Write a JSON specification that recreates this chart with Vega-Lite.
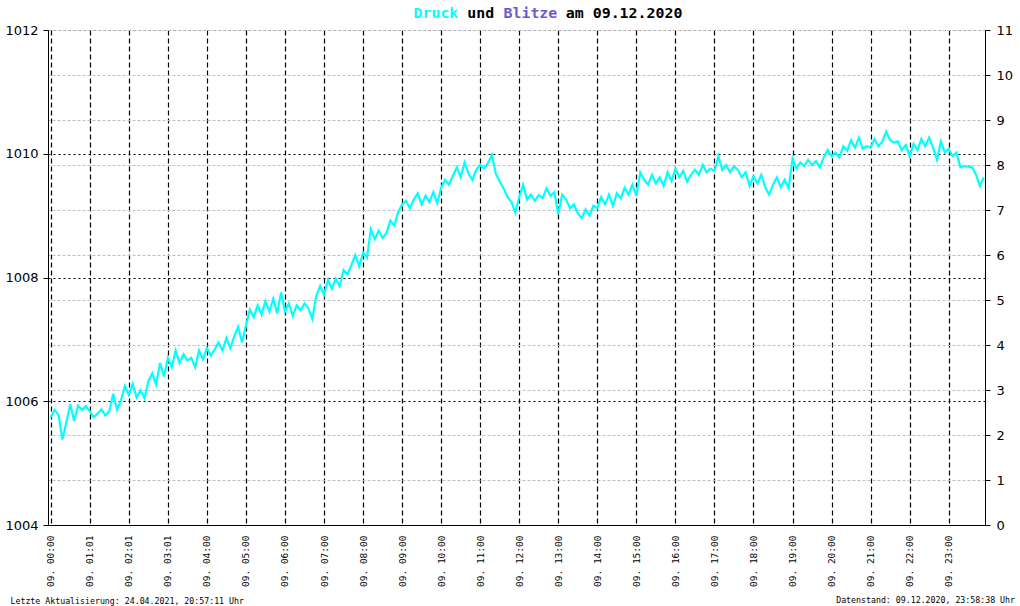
{
  "$schema": "https://vega.github.io/schema/vega-lite/v6.json",
  "width": 937,
  "height": 495,
  "autosize": {"type": "none"},
  "padding": {"left": 48, "top": 30, "right": 35, "bottom": 81},
  "background": "white",
  "title": {
    "text": "Datenstand: 09.12.2020, 23:58:38 Uhr",
    "orient": "bottom",
    "anchor": "end",
    "frame": "group",
    "font": "DejaVu Sans Mono",
    "fontSize": 8.25,
    "fontWeight": "normal",
    "color": "black",
    "dx": 30,
    "dy": -8,
    "offset": 0
  },
  "config": {
    "view": {"stroke": null},
    "axis": {"labelColor": "black", "domainColor": "black", "tickColor": "black", "titleColor": "black", "domainWidth": 1, "tickWidth": 1}
  },
  "datasets": {
    "druck": [
      {"h":0.0,"p":1005.74},{"h":0.1,"p":1005.86},{"h":0.2,"p":1005.78},{"h":0.3,"p":1005.38},{"h":0.4,"p":1005.66},{"h":0.5,"p":1005.95},{"h":0.6,"p":1005.68},{"h":0.7,"p":1005.93},{"h":0.8,"p":1005.86},{"h":0.9,"p":1005.92},
      {"h":1.0,"p":1005.84},{"h":1.1,"p":1005.74},{"h":1.2,"p":1005.80},{"h":1.3,"p":1005.87},{"h":1.4,"p":1005.77},{"h":1.5,"p":1005.84},{"h":1.6,"p":1006.12},{"h":1.7,"p":1005.86},{"h":1.8,"p":1006.02},{"h":1.9,"p":1006.25},
      {"h":2.0,"p":1006.10},{"h":2.1,"p":1006.28},{"h":2.2,"p":1006.06},{"h":2.3,"p":1006.18},{"h":2.4,"p":1006.05},{"h":2.5,"p":1006.32},{"h":2.6,"p":1006.45},{"h":2.7,"p":1006.27},{"h":2.8,"p":1006.62},{"h":2.9,"p":1006.40},
      {"h":3.0,"p":1006.70},{"h":3.1,"p":1006.55},{"h":3.2,"p":1006.82},{"h":3.3,"p":1006.62},{"h":3.4,"p":1006.76},{"h":3.5,"p":1006.66},{"h":3.6,"p":1006.70},{"h":3.7,"p":1006.55},{"h":3.8,"p":1006.82},{"h":3.9,"p":1006.68},
      {"h":4.0,"p":1006.86},{"h":4.1,"p":1006.74},{"h":4.2,"p":1006.84},{"h":4.3,"p":1006.95},{"h":4.4,"p":1006.82},{"h":4.5,"p":1007.02},{"h":4.6,"p":1006.86},{"h":4.7,"p":1007.05},{"h":4.8,"p":1007.20},{"h":4.9,"p":1006.95},
      {"h":5.0,"p":1007.22},{"h":5.1,"p":1007.48},{"h":5.2,"p":1007.36},{"h":5.3,"p":1007.55},{"h":5.4,"p":1007.40},{"h":5.5,"p":1007.62},{"h":5.6,"p":1007.45},{"h":5.7,"p":1007.66},{"h":5.8,"p":1007.42},{"h":5.9,"p":1007.76},
      {"h":6.0,"p":1007.45},{"h":6.1,"p":1007.58},{"h":6.2,"p":1007.38},{"h":6.3,"p":1007.55},{"h":6.4,"p":1007.47},{"h":6.5,"p":1007.58},{"h":6.6,"p":1007.50},{"h":6.7,"p":1007.33},{"h":6.8,"p":1007.70},{"h":6.9,"p":1007.86},
      {"h":7.0,"p":1007.72},{"h":7.1,"p":1007.96},{"h":7.2,"p":1007.82},{"h":7.3,"p":1007.98},{"h":7.4,"p":1007.86},{"h":7.5,"p":1008.12},{"h":7.6,"p":1008.05},{"h":7.7,"p":1008.20},{"h":7.8,"p":1008.36},{"h":7.9,"p":1008.18},
      {"h":8.0,"p":1008.40},{"h":8.1,"p":1008.32},{"h":8.2,"p":1008.78},{"h":8.3,"p":1008.62},{"h":8.4,"p":1008.76},{"h":8.5,"p":1008.64},{"h":8.6,"p":1008.72},{"h":8.7,"p":1008.92},{"h":8.8,"p":1008.84},{"h":8.9,"p":1009.06},
      {"h":9.0,"p":1009.18},{"h":9.1,"p":1009.24},{"h":9.2,"p":1009.12},{"h":9.3,"p":1009.26},{"h":9.4,"p":1009.36},{"h":9.5,"p":1009.18},{"h":9.6,"p":1009.32},{"h":9.7,"p":1009.22},{"h":9.8,"p":1009.38},{"h":9.9,"p":1009.20},
      {"h":10.0,"p":1009.45},{"h":10.1,"p":1009.58},{"h":10.2,"p":1009.50},{"h":10.3,"p":1009.64},{"h":10.4,"p":1009.78},{"h":10.5,"p":1009.62},{"h":10.6,"p":1009.86},{"h":10.7,"p":1009.68},{"h":10.8,"p":1009.58},{"h":10.9,"p":1009.74},
      {"h":11.0,"p":1009.82},{"h":11.1,"p":1009.76},{"h":11.2,"p":1009.85},{"h":11.3,"p":1009.98},{"h":11.4,"p":1009.68},{"h":11.5,"p":1009.55},{"h":11.6,"p":1009.44},{"h":11.7,"p":1009.30},{"h":11.8,"p":1009.22},{"h":11.9,"p":1009.05},
      {"h":12.0,"p":1009.30},{"h":12.1,"p":1009.50},{"h":12.2,"p":1009.26},{"h":12.3,"p":1009.34},{"h":12.4,"p":1009.24},{"h":12.5,"p":1009.33},{"h":12.6,"p":1009.28},{"h":12.7,"p":1009.44},{"h":12.8,"p":1009.32},{"h":12.9,"p":1009.38},
      {"h":13.0,"p":1009.02},{"h":13.1,"p":1009.34},{"h":13.2,"p":1009.26},{"h":13.3,"p":1009.12},{"h":13.4,"p":1009.18},{"h":13.5,"p":1009.04},{"h":13.6,"p":1008.96},{"h":13.7,"p":1009.10},{"h":13.8,"p":1009.00},{"h":13.9,"p":1009.16},
      {"h":14.0,"p":1009.12},{"h":14.1,"p":1009.30},{"h":14.2,"p":1009.18},{"h":14.3,"p":1009.34},{"h":14.4,"p":1009.16},{"h":14.5,"p":1009.36},{"h":14.6,"p":1009.28},{"h":14.7,"p":1009.45},{"h":14.8,"p":1009.34},{"h":14.9,"p":1009.50},
      {"h":15.0,"p":1009.32},{"h":15.1,"p":1009.70},{"h":15.2,"p":1009.58},{"h":15.3,"p":1009.50},{"h":15.4,"p":1009.66},{"h":15.5,"p":1009.52},{"h":15.6,"p":1009.62},{"h":15.7,"p":1009.48},{"h":15.8,"p":1009.70},{"h":15.9,"p":1009.56},
      {"h":16.0,"p":1009.76},{"h":16.1,"p":1009.62},{"h":16.2,"p":1009.72},{"h":16.3,"p":1009.55},{"h":16.4,"p":1009.66},{"h":16.5,"p":1009.74},{"h":16.6,"p":1009.66},{"h":16.7,"p":1009.82},{"h":16.8,"p":1009.70},{"h":16.9,"p":1009.76},
      {"h":17.0,"p":1009.72},{"h":17.1,"p":1009.96},{"h":17.2,"p":1009.74},{"h":17.3,"p":1009.82},{"h":17.4,"p":1009.70},{"h":17.5,"p":1009.80},{"h":17.6,"p":1009.74},{"h":17.7,"p":1009.62},{"h":17.8,"p":1009.70},{"h":17.9,"p":1009.48},
      {"h":18.0,"p":1009.64},{"h":18.1,"p":1009.52},{"h":18.2,"p":1009.66},{"h":18.3,"p":1009.46},{"h":18.4,"p":1009.34},{"h":18.5,"p":1009.50},{"h":18.6,"p":1009.62},{"h":18.7,"p":1009.46},{"h":18.8,"p":1009.58},{"h":18.9,"p":1009.44},
      {"h":19.0,"p":1009.92},{"h":19.1,"p":1009.76},{"h":19.2,"p":1009.86},{"h":19.3,"p":1009.80},{"h":19.4,"p":1009.90},{"h":19.5,"p":1009.82},{"h":19.6,"p":1009.88},{"h":19.7,"p":1009.78},{"h":19.8,"p":1009.94},{"h":19.9,"p":1010.06},
      {"h":20.0,"p":1009.96},{"h":20.1,"p":1010.02},{"h":20.2,"p":1009.94},{"h":20.3,"p":1010.12},{"h":20.4,"p":1010.05},{"h":20.5,"p":1010.22},{"h":20.6,"p":1010.10},{"h":20.7,"p":1010.26},{"h":20.8,"p":1010.08},{"h":20.9,"p":1010.12},
      {"h":21.0,"p":1010.10},{"h":21.1,"p":1010.24},{"h":21.2,"p":1010.12},{"h":21.3,"p":1010.20},{"h":21.4,"p":1010.36},{"h":21.5,"p":1010.22},{"h":21.6,"p":1010.18},{"h":21.7,"p":1010.20},{"h":21.8,"p":1010.06},{"h":21.9,"p":1010.14},
      {"h":22.0,"p":1009.96},{"h":22.1,"p":1010.16},{"h":22.2,"p":1010.06},{"h":22.3,"p":1010.24},{"h":22.4,"p":1010.12},{"h":22.5,"p":1010.26},{"h":22.6,"p":1010.10},{"h":22.7,"p":1009.90},{"h":22.8,"p":1010.20},{"h":22.9,"p":1010.02},
      {"h":23.0,"p":1010.08},{"h":23.1,"p":1009.96},{"h":23.2,"p":1010.02},{"h":23.3,"p":1009.78},{"h":23.4,"p":1009.80},{"h":23.5,"p":1009.79},{"h":23.6,"p":1009.78},{"h":23.7,"p":1009.66},{"h":23.8,"p":1009.48},{"h":23.9,"p":1009.62}
    ],
    "blitze": [
      {"h":0,"n":0},{"h":1,"n":0},{"h":2,"n":0},{"h":3,"n":0},{"h":4,"n":0},{"h":5,"n":0},{"h":6,"n":0},{"h":7,"n":0},{"h":8,"n":0},{"h":9,"n":0},{"h":10,"n":0},{"h":11,"n":0},
      {"h":12,"n":0},{"h":13,"n":0},{"h":14,"n":0},{"h":15,"n":0},{"h":16,"n":0},{"h":17,"n":0},{"h":18,"n":0},{"h":19,"n":0},{"h":20,"n":0},{"h":21,"n":0},{"h":22,"n":0},{"h":23,"n":0}
    ]
  },
  "layer": [
    {
      "data": {"name": "druck"},
      "mark": {"type": "line", "color": "#00ffff", "strokeWidth": 2.2},
      "encoding": {
        "x": {
          "field": "h", "type": "quantitative",
          "scale": {"domain": [-0.07, 23.93], "nice": false, "zero": false},
          "axis": {
            "orient": "bottom",
            "values": [0,1,2,3,4,5,6,7,8,9,10,11,12,13,14,15,16,17,18,19,20,21,22,23],
            "labelExpr": "'09. ' + (datum.value < 10 ? '0' : '') + datum.value + ((datum.value >= 1 && datum.value <= 3) ? ':01' : ':00')",
            "labelAngle": -90,
            "labelFont": "DejaVu Sans Mono",
            "labelFontSize": 9.5,
            "labelPadding": 10,
            "labelOverlap": false,
            "labelBound": false,
            "labelFlush": false,
            "ticks": false,
            "grid": true,
            "gridColor": "black",
            "gridDash": [5, 3],
            "gridWidth": 1.2,
            "gridOpacity": 1,
            "title": "Letzte Aktualisierung: 24.04.2021, 20:57:11 Uhr",
            "titleFont": "DejaVu Sans Mono",
            "titleFontSize": 8.25,
            "titleFontWeight": "normal",
            "titleX": -38,
            "titleY": 78,
            "titleAlign": "left",
            "titleAnchor": "start",
            "titleBaseline": "alphabetic"
          }
        },
        "y": {
          "field": "p", "type": "quantitative",
          "scale": {"domain": [1004, 1012], "nice": false, "zero": false},
          "axis": {
            "orient": "left",
            "values": [1004, 1006, 1008, 1010, 1012],
            "format": "d",
            "labelFont": "DejaVu Sans",
            "labelFontSize": 13,
            "labelPadding": 5,
            "tickSize": 5,
            "grid": true,
            "gridColor": "black",
            "gridDash": [2, 3],
            "gridWidth": 1.2,
            "gridOpacity": 1,
            "title": "Druck",
            "titleColor": "#00ffff",
            "titleFont": "DejaVu Sans Mono",
            "titleFontSize": 14.9,
            "titleFontWeight": "bold",
            "titleAngle": 0,
            "titleX": 365,
            "titleY": -12.7,
            "titleAlign": "left",
            "titleBaseline": "alphabetic"
          }
        }
      }
    },
    {
      "data": {"name": "blitze"},
      "mark": {"type": "bar", "color": "#6a5acd"},
      "encoding": {
        "x": {
          "field": "h", "type": "quantitative",
          "scale": {"domain": [-0.07, 23.93], "nice": false, "zero": false},
          "axis": {
            "orient": "top",
            "labels": false,
            "ticks": false,
            "domain": false,
            "grid": false,
            "title": "und\u00a0\u00a0\u00a0\u00a0\u00a0\u00a0\u00a0\u00a0am 09.12.2020",
            "titleFont": "DejaVu Sans Mono",
            "titleFontSize": 14.9,
            "titleFontWeight": "bold",
            "titleX": 418.7,
            "titleY": -12.7,
            "titleAlign": "left",
            "titleBaseline": "alphabetic"
          }
        },
        "y": {
          "field": "n", "type": "quantitative",
          "scale": {"domain": [0, 11], "nice": false},
          "axis": {
            "orient": "right",
            "values": [0,1,2,3,4,5,6,7,8,9,10,11],
            "labelFont": "DejaVu Sans",
            "labelFontSize": 13,
            "labelPadding": 6,
            "tickSize": 5,
            "grid": true,
            "gridColor": "#c0c0c0",
            "gridDash": [3, 2],
            "gridWidth": 1,
            "gridOpacity": 1,
            "title": "Blitze",
            "titleColor": "#6a5acd",
            "titleFont": "DejaVu Sans Mono",
            "titleFontSize": 14.9,
            "titleFontWeight": "bold",
            "titleAngle": 0,
            "titleX": -482,
            "titleY": -12.7,
            "titleAlign": "left",
            "titleBaseline": "alphabetic"
          }
        }
      }
    }
  ],
  "resolve": {"scale": {"x": "independent", "y": "independent"}}
}
